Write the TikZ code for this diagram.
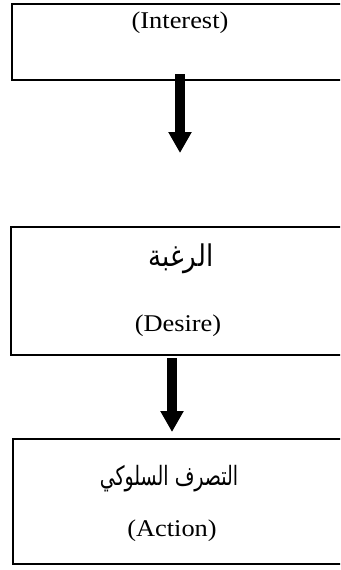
\documentclass[tikz,border=0pt]{standalone}
\usepackage{fontspec}
\usepackage{graphicx}
\setmainfont{Liberation Serif}
\newfontfamily\arabicfont[Script=Arabic]{DejaVu Sans}
\TeXXeTstate=1
\usetikzlibrary{arrows.meta}

\tikzset{
  box/.style={draw, line width=2pt, rectangle, anchor=north west, minimum width=345pt, inner sep=0pt},
  entxt/.style={font=\fontsize{24}{28}\selectfont, anchor=base, inner sep=0pt},
  artxt/.style={font=\arabicfont\fontsize{#1}{24}\selectfont, anchor=base, inner sep=0pt},
  artxt/.default=20,
  blockarrow/.style={line width=10pt, -{Triangle[width=22pt,length=21pt]}}
}
\newcommand{\wide}[1]{\scalebox{1.1}[1]{#1}}
\newcommand{\tall}[2]{\scalebox{1}[#1]{#2}}

\begin{document}
\begin{tikzpicture}[x=1pt, y=-1pt]
    \clip (0,0) rectangle (340,570);
    \fill[white] (0,0) rectangle (340,570);

    % stage boxes (right sides run off the page)
    \node[box, minimum height=76pt] (interestbox) at (11,3) {};
    \node[box, minimum height=128pt] (desirebox) at (10,226) {};
    \node[box, minimum height=125pt] (actionbox) at (12,438) {};

    % labels
    \node[entxt] (interest) at (180,28) {\wide{(Interest)}};
    \node[artxt=26] (desirear) at (181,266) {\tall{1.15}{\beginR الرغبة\endR}};
    \node[entxt] (desire) at (178,331) {\wide{(Desire)}};
    \node[artxt=19] (actionar) at (169,485) {\tall{1.4}{\beginR التصرف السلوكي\endR}};
    \node[entxt] (action) at (172,536) {\wide{(Action)}};

    % arrows between stages
    \coordinate (a1top) at (180,74);
    \coordinate (a1tip) at (180,153);
    \coordinate (a2top) at (172,358);
    \coordinate (a2tip) at (172,432);
    \draw[blockarrow] (a1top) -- (a1tip);
    \draw[blockarrow] (a2top) -- (a2tip);
\end{tikzpicture}
\end{document}
